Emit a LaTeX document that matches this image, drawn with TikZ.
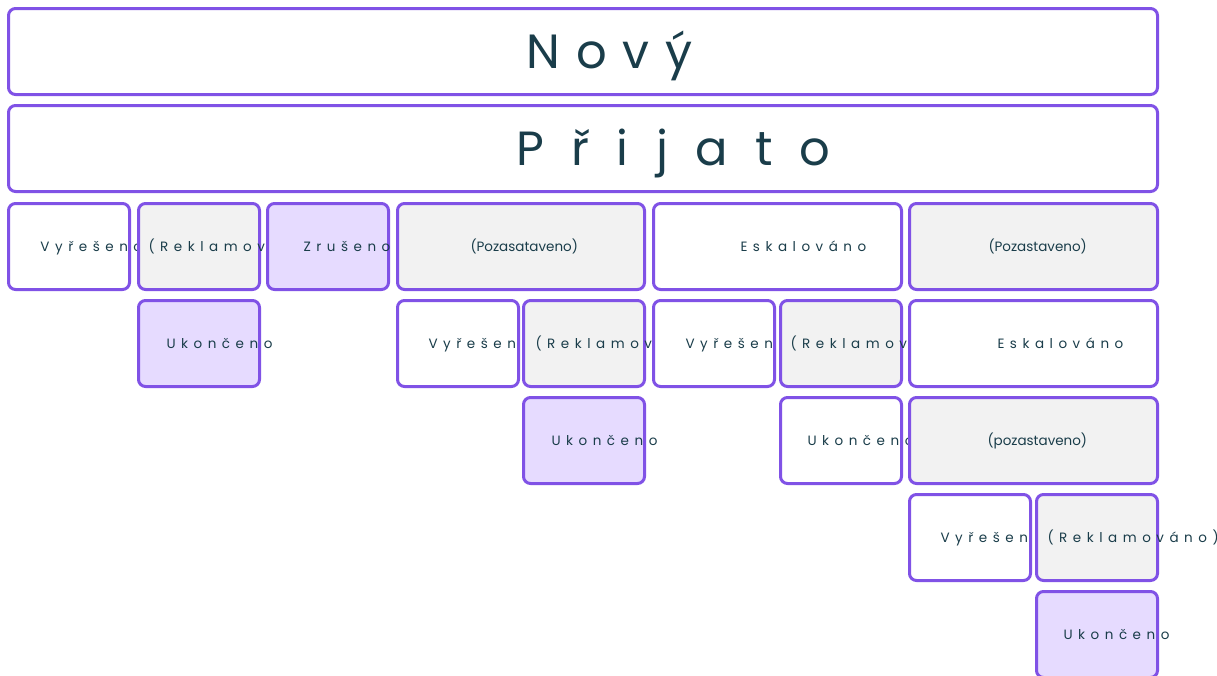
\documentclass[tikz,border=0pt]{standalone}
\usepackage{fontspec}
\setmainfont{Poppins}
\newfontfamily\rozpal[LetterSpace=41]{Poppins}
\usepackage{tikz}
\usetikzlibrary{positioning}
\definecolor{fial}{HTML}{8052E6}
\definecolor{seda}{HTML}{F2F2F2}
\definecolor{lev}{HTML}{E6DBFF}
\definecolor{txt}{HTML}{1A3D4A}
\newcommand{\popis}[3]{\makebox[#1pt][l]{\hspace*{#2pt}#3}}

\begin{document}
\begin{tikzpicture}[x=1pt,y=-1pt,
stav/.style={draw=fial, line width=3pt, rounded corners=7pt, inner sep=0pt,
    outer sep=0pt, minimum height=86pt, anchor=north west, text=txt,
    text height=9.5pt, text depth=0pt,
    font=\rozpal\fontsize{13.5}{16}\selectfont},
bily/.style={stav, fill=white},
sedy/.style={stav, fill=seda},
levandule/.style={stav, fill=lev},
plny/.style={font=\fontsize{13.5}{16}\selectfont},
velky/.style={text height=34pt}]
\useasboundingbox (0,0) rectangle (1217,675);
% horni pas
\node[bily, velky] (novy) at (8.5,8.5)
  {\popis{1149}{518}{\fontspec{Poppins}[LetterSpace=33]\fontsize{48}{56}\selectfont Nový}};
\node[bily, velky] (prijato) at (8.5,105.5)
  {\popis{1149}{508}{\fontspec{Poppins}[LetterSpace=57]\fontsize{48}{56}\selectfont Přijato}};
% radek 1
\node[bily] (v1) at (8.5,203.5) {\popis{121}{32}{Vyřešeno}};
\node[sedy] (r1) at (138.5,203.5) {\popis{121}{10}{(Reklamov}};
\node[levandule] (z1) at (267.5,203.5) {\popis{121}{36}{Zrušeno}};
\node[sedy, plny] (p1) at (397.5,203.5) {\popis{247}{73}{(Pozasataveno)}};
\node[bily] (e1) at (653.5,203.5) {\popis{248}{87}{Eskalováno}};
\node[sedy, plny] (p2) at (909.5,203.5) {\popis{248}{79}{(Pozastaveno)}};
% radek 2
\node[levandule] (u1) at (138.5,300.5) {\popis{121}{28}{Ukončeno}};
\node[bily] (v2) at (397.5,300.5) {\popis{121}{31}{Vyřešen}};
\node[sedy] (r2) at (523.5,300.5) {\popis{121}{12}{(Reklamov}};
\node[bily] (v3) at (653.5,300.5) {\popis{121}{32}{Vyřešen}};
\node[sedy] (r3) at (780.5,300.5) {\popis{121}{10}{(Reklamov}};
\node[bily] (e2) at (909.5,300.5) {\popis{248}{88}{Eskalováno}};
% radek 3
\node[levandule] (u2) at (523.5,397.5) {\popis{121}{28}{Ukončeno}};
\node[bily] (u3) at (780.5,397.5) {\popis{121}{27}{Ukončeno}};
\node[sedy, plny] (p3) at (909.5,397.5) {\popis{248}{78}{(pozastaveno)}};
% radek 4
\node[bily] (v4) at (909.5,494.5) {\popis{121}{31}{Vyřešen}};
\node[sedy] (r4) at (1036.5,494.5) {\popis{121}{11}{(Reklamováno)}};
% radek 5
\node[levandule] (u4) at (1036.5,591.5) {\popis{121}{27}{Ukončeno}};
\end{tikzpicture}
\end{document}
